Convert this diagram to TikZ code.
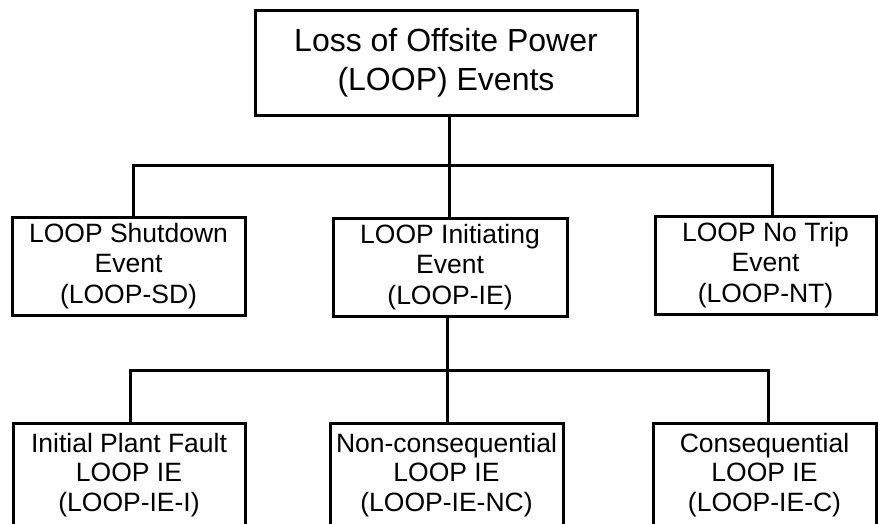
\documentclass[tikz,border=0pt]{standalone}
\usepackage{fontspec}
\setmainfont{Liberation Sans}
\begin{document}
\begin{tikzpicture}[x=1pt,y=-1pt,
  box/.style={draw=black, line width=3pt, fill=white, align=center, inner sep=0pt},
  topbox/.style={box, minimum width=382pt, minimum height=105pt, font=\fontsize{32}{39}\selectfont},
  midbox/.style={box, minimum height=98pt, font=\fontsize{26.5}{30.5}\selectfont},
  lowbox/.style={box, minimum height=104pt, font=\fontsize{26.5}{29.5}\selectfont},
  conn/.style={draw=black, line width=3pt}]
\path[use as bounding box, clip] (0,0) rectangle (878,523);
\fill[white] (0,0) rectangle (878,523);

% top
\node[topbox] (top) at (446,62.5) {Loss of Offsite Power\\(LOOP) Events};

% middle row
\node[midbox, minimum width=233pt] (sd) at (128.5,266) {LOOP Shutdown\\Event\\(LOOP-SD)};
\node[midbox, minimum width=234pt] (ie) at (450,267) {LOOP Initiating\\Event\\(LOOP-IE)};
\node[midbox, minimum width=221pt] (nt) at (765.5,265) {LOOP No Trip\\Event\\(LOOP-NT)};

% bottom row
\node[lowbox, minimum width=232pt] (iei) at (129,475) {Initial Plant Fault\\LOOP IE\\(LOOP-IE-I)};
\node[lowbox, minimum width=233pt] (ienc) at (446.5,475) {Non-consequential\\LOOP IE\\(LOOP-IE-NC)};
\node[lowbox, minimum width=223pt] (iec) at (764.5,475) {Consequential\\LOOP IE\\(LOOP-IE-C)};

% connectors level 1
\coordinate (j1) at (449,165);
\draw[conn] ([xshift=3pt]top.south) -- (j1);
\draw[conn] ([xshift=4.5pt]sd.north) |- (j1) -| ([xshift=6.5pt]nt.north);
\draw[conn] (j1) -- ([xshift=-1pt]ie.north);

% connectors level 2
\coordinate (j2) at (447,370);
\draw[conn] ([xshift=-3pt]ie.south) -- (j2);
\draw[conn] ([xshift=1pt]iei.north) |- (j2) -| ([xshift=3.5pt]iec.north);
\draw[conn] (j2) -- ([xshift=0.5pt]ienc.north);
\end{tikzpicture}
\end{document}
